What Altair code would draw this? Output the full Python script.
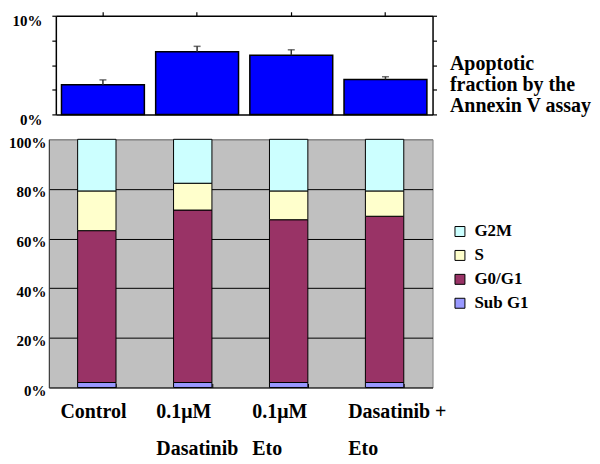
import altair as alt
import pandas as pd

# ---- data ----
treatments = ["Control", "0.1μM\nDasatinib", "0.1μM\nEto", "Dasatinib +\nEto"]

# apoptotic fraction (Annexin V), percent
apoptosis = [3.0, 6.35, 6.0, 3.55]
apoptosis_err = [0.5, 0.55, 0.55, 0.27]

# cell-cycle distribution, percent
phases = ["G2M", "S", "G0/G1", "Sub G1"]
phase_colors = ["#CCFFFF", "#FFFFCC", "#993366", "#9999FF"]
sub_g1 = [2.0, 2.0, 2.0, 2.0]
g0_g1 = [61.2, 69.5, 65.6, 67.0]
s_phase = [16.0, 10.8, 11.6, 10.2]
g2m = [20.8, 17.7, 20.8, 20.8]

y_top_ticks = [0, 2.5, 5, 7.5, 10]
y_bottom_ticks = [0, 20, 40, 60, 80, 100]

FONT = "Liberation Serif"

apo = pd.DataFrame({"treatment": treatments, "value": apoptosis, "err": apoptosis_err})
apo["top"] = apo["value"] + apo["err"]

rows = []
stack_order = {"Sub G1": 0, "G0/G1": 1, "S": 2, "G2M": 3}
for i, t in enumerate(treatments):
    for ph, vals in (("Sub G1", sub_g1), ("G0/G1", g0_g1), ("S", s_phase), ("G2M", g2m)):
        rows.append({"treatment": t, "phase": ph, "value": vals[i], "order": stack_order[ph]})
cc = pd.DataFrame(rows)

# ---- top panel ----
x_scale_top = alt.Scale(range=[7, 385], paddingInner=0.12, paddingOuter=0.06)
y_scale_top = alt.Scale(domain=[0, 10], nice=False)

left_axis = alt.Axis(
    orient="left", values=y_top_ticks, title=None, grid=False,
    labelExpr="datum.value == 0 ? '0%' : datum.value == 10 ? '10%' : ''",
    offset=-7, tickSize=4, tickColor="black", tickWidth=1.2,
    domainColor="black", domainWidth=1.5,
    labelFont=FONT, labelFontWeight="bold", labelFontSize=15, labelColor="black",
    labelPadding=10, labelOffset=5,
)
bottom_axis_top = alt.Axis(
    orient="bottom", title=None, labels=False, ticks=False, grid=False,
    domainColor="black", domainWidth=1.5,
)
top_axis = alt.Axis(
    orient="top", title=None, labels=False, grid=False, tickSize=4,
    tickColor="black", tickWidth=1.2, domainColor="black", domainWidth=1.5,
)
right_axis = alt.Axis(
    orient="right", values=y_top_ticks, labels=False, grid=False, tickSize=4,
    tickColor="black", tickWidth=1.2, domainColor="black", domainWidth=1.5,
    title=["Apoptotic", "fraction by the", "Annexin V assay"],
    titleAngle=0, titleAlign="left", titleBaseline="middle",
    titleX=17, titleY=48, titleFont=FONT, titleFontWeight="bold",
    titleFontSize=20, titleLineHeight=21, titleColor="black",
)

apo_bars = alt.Chart(apo).mark_bar(color="#0000FF", stroke="black", strokeWidth=1.5).encode(
    x=alt.X("treatment:N", sort=treatments, scale=x_scale_top, axis=bottom_axis_top),
    y=alt.Y("value:Q", scale=y_scale_top, axis=left_axis),
)
apo_err = alt.Chart(apo).mark_rule(color="#333333", strokeWidth=1.5).encode(
    x=alt.X("treatment:N", sort=treatments, scale=x_scale_top, axis=top_axis),
    y=alt.Y("value:Q", scale=y_scale_top, axis=right_axis),
    y2="top:Q",
)
apo_cap = alt.Chart(apo).mark_tick(color="#333333", size=7, thickness=1.5).encode(
    x=alt.X("treatment:N", sort=treatments, scale=x_scale_top, axis=None),
    y=alt.Y("top:Q", scale=y_scale_top, axis=None),
)

top = alt.layer(apo_bars, apo_err, apo_cap).resolve_axis(
    x="independent", y="independent"
).properties(width=385, height=99)

# ---- bottom panel ----
x_axis_bottom = alt.Axis(
    orient="bottom", title=None, labelAngle=0,
    labelExpr="split(datum.label, '\\n')",
    labelFont=FONT, labelFontWeight="bold", labelFontSize=20, labelColor="black",
    labelLineHeight=37, labelAlign="left", labelBaseline="top",
    labelOffset=-37, labelPadding=14,
    tickBand="extent", tickSize=4, tickColor="black", tickWidth=1,
    offset=-4, domain=False, grid=False,
)
y_axis_bottom = alt.Axis(
    values=y_bottom_ticks, title=None, labelExpr="datum.value + '%'",
    grid=True,
    gridColor={"condition": {"test": "datum.value == 100", "value": "#808080"}, "value": "black"},
    gridWidth=1, ticks=False, domain=True, domainColor="#333333", domainWidth=1,
    labelFont=FONT, labelFontWeight="bold", labelFontSize=15, labelColor="black",
    labelPadding=3, labelOffset=3,
)

cycle = alt.Chart(cc).mark_bar(stroke="black", strokeWidth=1).encode(
    x=alt.X("treatment:N", sort=treatments,
            scale=alt.Scale(paddingInner=0.6, paddingOuter=0.3), axis=x_axis_bottom),
    y=alt.Y("value:Q", stack="zero", scale=alt.Scale(domain=[0, 100], nice=False), axis=y_axis_bottom),
    color=alt.Color(
        "phase:N",
        scale=alt.Scale(domain=phases, range=phase_colors),
        legend=alt.Legend(
            title=None, orient="none", legendX=404, legendY=208, padding=0,
            symbolType="square", symbolSize=100, symbolStrokeColor="black",
            symbolStrokeWidth=1, symbolOpacity=1,
            labelFont=FONT, labelFontWeight="bold", labelFontSize=17, labelColor="black",
            labelOffset=6, rowPadding=6,
        ),
    ),
    order=alt.Order("order:Q", sort="ascending"),
).properties(
    width=385, height=249,
    view=alt.ViewBackground(fill="#C0C0C0", stroke="#808080", strokeWidth=1),
)

chart = alt.vconcat(top, cycle, spacing=6).properties(
    padding={"left": 0, "top": 1, "right": 0, "bottom": 0}
).configure_view(stroke="transparent")

chart.save("out.html", embed_options={"renderer": "svg", "actions": False})
